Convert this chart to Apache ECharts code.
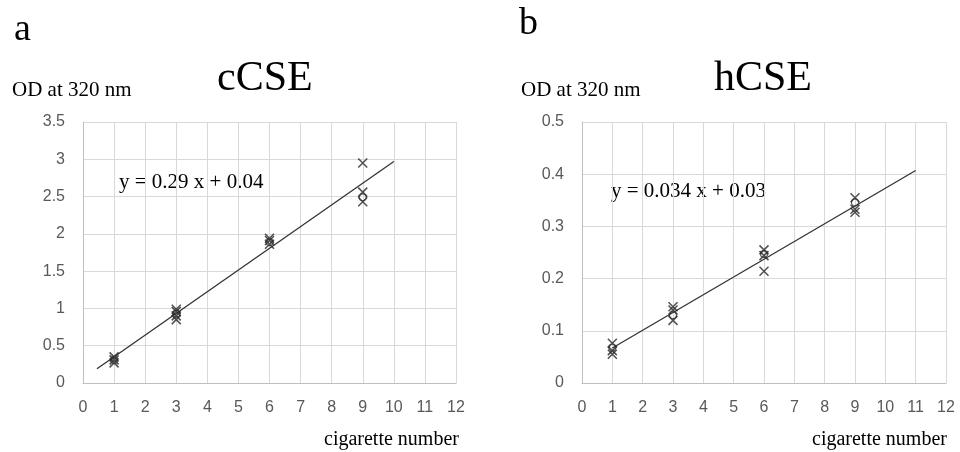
<!DOCTYPE html>
<html>
<head>
<meta charset="utf-8">
<script src="https://cdn.jsdelivr.net/npm/echarts@6/dist/echarts.min.js"></script>
<style>html,body{margin:0;padding:0;background:#fff}#c{width:960px;height:452px}</style>
</head>
<body>
<div id="c"></div>
<script>
// ---- data ----
const xTicks = [0,1,2,3,4,5,6,7,8,9,10,11,12];
const cCSE_cross = [[1,0.27],[1,0.31],[1,0.35],[3,0.85],[3,0.90],[3,0.96],[3,0.99],[6,1.86],[6,1.91],[6,1.94],[9,2.95],[9,2.56],[9,2.43]];
const cCSE_circle = [[1,0.31],[3,0.93],[6,1.89],[9,2.49]];
const cCSE_trend = [[0.45,0.19],[10,2.97]];
const hCSE_cross = [[1,0.055],[1,0.062],[1,0.076],[3,0.12],[3,0.14],[3,0.146],[6,0.214],[6,0.244],[6,0.255],[9,0.327],[9,0.333],[9,0.355]];
const hCSE_circle = [[1,0.068],[3,0.13],[6,0.247],[9,0.346]];
const hCSE_trend = [[1,0.067],[11,0.407]];
const cCSE_eq = 'y = 0.29 x + 0.04';
const hCSE_eq = 'y = 0.034 x + 0.03';

const crossPath = 'path://M0,0L10,10M10,0L0,10';
const serif = '"Liberation Serif","Times New Roman",serif';
const gridColor = '#d9d9d9';
const labelColor = '#595959';

function xAxis(gi){
  return {type:'value', gridIndex:gi, min:0, max:12, interval:1,
    axisLine:{show:true, lineStyle:{color:'#bfbfbf'}}, axisTick:{show:false},
    axisLabel:{color:labelColor, fontSize:16, margin:17, fontFamily:'"Liberation Sans",Arial,sans-serif'},
    splitLine:{show:true, lineStyle:{color:gridColor, width:1}}};
}
function yAxis(gi, max, interval){
  return {type:'value', gridIndex:gi, min:0, max:max, interval:interval,
    axisLine:{show:true, lineStyle:{color:'#bfbfbf'}}, axisTick:{show:false},
    axisLabel:{color:labelColor, fontSize:16, margin:18, fontFamily:'"Liberation Sans",Arial,sans-serif'},
    splitLine:{show:true, lineStyle:{color:gridColor, width:1}}};
}
function crossSeries(i, data){
  return {type:'scatter', xAxisIndex:i, yAxisIndex:i, data:data, symbol:crossPath, symbolSize:9,
    itemStyle:{color:'none', borderColor:'#262626', borderWidth:1.5}, z:5, silent:true};
}
function circleSeries(i, data){
  return {type:'scatter', xAxisIndex:i, yAxisIndex:i, data:data, symbol:'circle', symbolSize:7,
    itemStyle:{color:'none', borderColor:'#333', borderWidth:1.2}, z:5, silent:true};
}
function trendSeries(i, data){
  return {type:'line', xAxisIndex:i, yAxisIndex:i, data:data, symbol:'none',
    lineStyle:{color:'#333', width:1.3}, z:4, silent:true};
}
function txt(x, y, text, size){
  return {type:'text', x:x, y:y, style:{text:text, font: size+'px '+serif, fill:'#000', verticalAlign:'middle', align:'left'}};
}

const chart = echarts.init(document.getElementById('c'));
chart.setOption({
  animation:false,
  grid:[
    {left:83, right:504, top:122, bottom:69},
    {left:582, right:14, top:122, bottom:69}
  ],
  xAxis:[xAxis(0), xAxis(1)],
  yAxis:[yAxis(0,3.5,0.5), yAxis(1,0.5,0.1)],
  series:[
    trendSeries(0, cCSE_trend), crossSeries(0, cCSE_cross), circleSeries(0, cCSE_circle),
    trendSeries(1, hCSE_trend), crossSeries(1, hCSE_cross), circleSeries(1, hCSE_circle)
  ],
  graphic:[
    txt(14, 30, 'a', 38),
    txt(519, 24, 'b', 38),
    txt(12, 90, 'OD at 320 nm', 21),
    txt(521, 90, 'OD at 320 nm', 21),
    txt(217, 79, 'cCSE', 42),
    txt(714, 79, 'hCSE', 42),
    txt(119, 182, cCSE_eq, 21),
    txt(611, 191, hCSE_eq, 21),
    txt(324, 440, 'cigarette number', 20),
    txt(812, 440, 'cigarette number', 20)
  ]
});
</script>
</body>
</html>
